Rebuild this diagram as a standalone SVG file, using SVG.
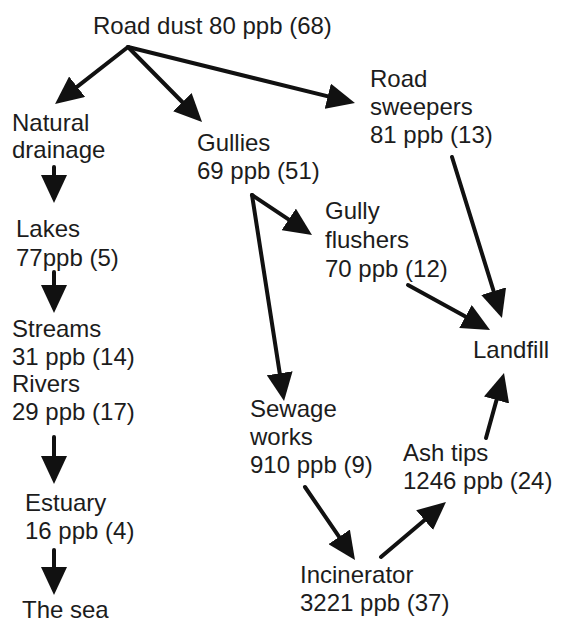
<svg xmlns="http://www.w3.org/2000/svg" width="561" height="622" viewBox="0 0 561 622">
<style>
text{font-family:"Liberation Sans",Arial,sans-serif;font-size:24px;fill:#1c1c1c}
.c line{stroke:#111;stroke-width:4;marker-end:url(#ah);stroke-linecap:round}
</style>
<defs>
<marker id="ah" viewBox="0 0 28 26" refX="16" refY="13" markerWidth="28" markerHeight="26" markerUnits="userSpaceOnUse" orient="auto">
<path d="M0,0 L28,13 L0,26 Z" fill="#111"/>
</marker>
</defs>
<rect width="561" height="622" fill="#fff"/>
<g class="c" id="connectors">
<line x1="128" y1="47" x2="64.5" y2="96.6"/>
<line x1="128" y1="47" x2="193.6" y2="113.5"/>
<line x1="128" y1="47" x2="343.3" y2="100.1"/>
<line x1="54" y1="167" x2="54" y2="191"/>
<line x1="54" y1="272" x2="54" y2="301"/>
<line x1="54" y1="437" x2="54" y2="472"/>
<line x1="54" y1="550" x2="54" y2="583"/>
<line x1="252" y1="195" x2="302" y2="228.3"/>
<line x1="252" y1="195" x2="282.2" y2="389.1"/>
<line x1="452" y1="157" x2="498.4" y2="306.5"/>
<line x1="408" y1="285" x2="479.5" y2="324.2"/>
<line x1="486" y1="438" x2="500.8" y2="384.6"/>
<line x1="305" y1="487" x2="348.2" y2="550.1"/>
<line x1="381" y1="557" x2="436.8" y2="509.8"/>
</g>
<g id="road-dust"><text x="93" y="34">Road dust 80 ppb (68)</text></g>
<g id="natural-drainage"><text x="12" y="131">Natural</text><text x="12" y="158">drainage</text></g>
<g id="gullies"><text x="197" y="151">Gullies</text><text x="197" y="179">69 ppb (51)</text></g>
<g id="road-sweepers"><text x="370" y="87">Road</text><text x="370" y="115">sweepers</text><text x="370" y="143">81 ppb (13)</text></g>
<g id="lakes"><text x="16" y="237">Lakes</text><text x="16" y="266">77ppb (5)</text></g>
<g id="streams-rivers"><text x="12" y="337">Streams</text><text x="12" y="365">31 ppb (14)</text><text x="12" y="392">Rivers</text><text x="12" y="420">29 ppb (17)</text></g>
<g id="estuary"><text x="25" y="511">Estuary</text><text x="25" y="539">16 ppb (4)</text></g>
<g id="the-sea"><text x="22" y="618">The sea</text></g>
<g id="gully-flushers"><text x="325" y="219">Gully</text><text x="325" y="248">flushers</text><text x="325" y="277">70 ppb (12)</text></g>
<g id="landfill"><text x="473" y="358">Landfill</text></g>
<g id="sewage-works"><text x="250" y="417">Sewage</text><text x="250" y="445">works</text><text x="250" y="473">910 ppb (9)</text></g>
<g id="ash-tips"><text x="403" y="461">Ash tips</text><text x="403" y="489">1246 ppb (24)</text></g>
<g id="incinerator"><text x="300" y="583">Incinerator</text><text x="300" y="611">3221 ppb (37)</text></g>
</svg>
